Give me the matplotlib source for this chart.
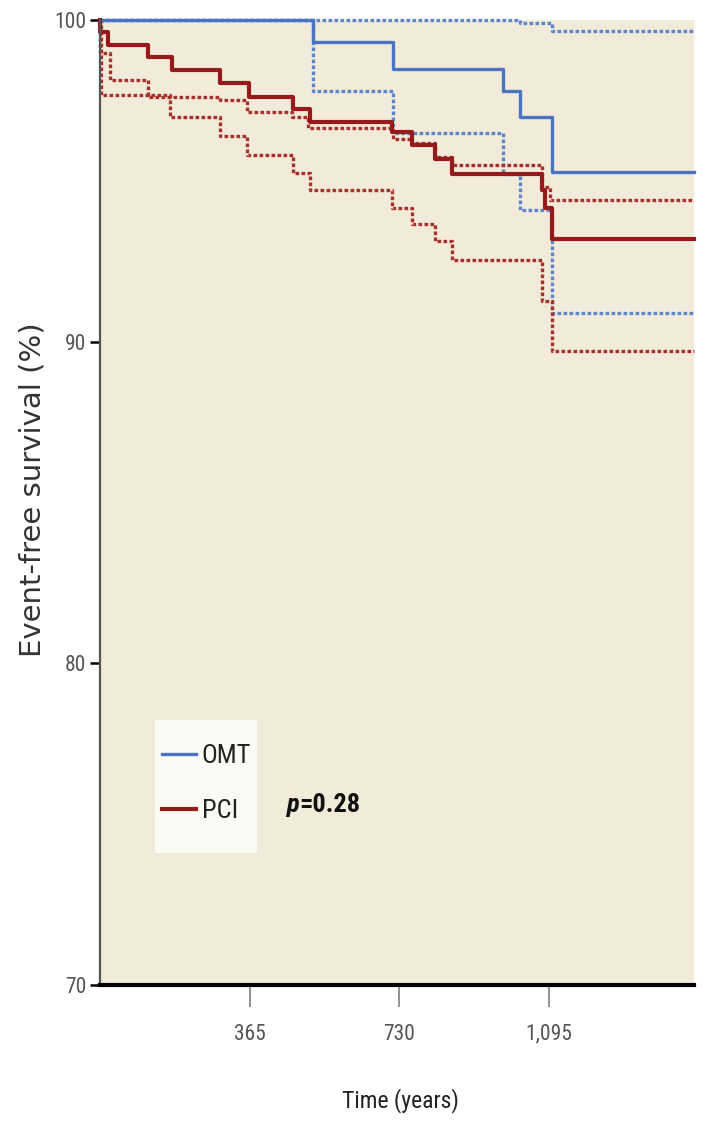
import matplotlib
matplotlib.use("Agg")
import matplotlib.pyplot as plt
import matplotlib.patches as patches
from matplotlib import font_manager

# Kaplan-Meier steps (day of step, survival % after step)
omt_t = [0, 520, 715, 983, 1024, 1103]
omt_s = [100, 99.32, 98.47, 97.80, 97.00, 95.26]
omt_hi = [100, 100, 100, 100, 99.90, 99.67]
omt_lo = [100, 97.80, 96.50, 95.20, 94.10, 90.90]

pci_t = [0, 1, 19, 117, 175, 293, 362, 471, 512, 711, 760, 817, 858, 1077, 1085, 1102]
pci_s = [100, 99.64, 99.22, 98.84, 98.45, 98.05, 97.62, 97.23, 96.82, 96.53,
         96.10, 95.67, 95.22, 94.72, 94.16, 93.19]

pci_hi_t = [0, 1, 24, 117, 293, 359, 468, 507, 715, 761, 817, 859, 1078, 1098]
pci_hi = [100, 98.97, 98.14, 97.62, 97.50, 97.15, 96.97, 96.64, 96.30, 96.17,
          95.74, 95.48, 94.80, 94.41]

pci_lo_t = [0, 3, 171, 293, 359, 471, 512, 712, 761, 817, 859, 1077, 1102]
pci_lo = [100, 97.67, 96.97, 96.38, 95.81, 95.24, 94.70, 94.15, 93.66, 93.14,
          92.55, 91.25, 89.70]

t_end = 1448
xticks = [365, 730, 1095]
xticklabels = ["365", "730", "1,095"]
yticks = [70, 80, 90, 100]
groups = ["OMT", "PCI"]

# look for a narrow face; fall back to plain DejaVu
fonts = font_manager.fontManager.ttflist
names = {f.name for f in fonts}
narrow, stretch = "DejaVu Sans", "normal"
for cand in ["Liberation Sans Narrow", "Roboto Condensed", "Open Sans Condensed",
             "Noto Sans Condensed", "DejaVu Sans Condensed"]:
    if cand in names:
        narrow = cand
        break
else:
    if any(f.name == "DejaVu Sans" and f.stretch in ("condensed", "semi-condensed")
           for f in fonts):
        stretch = "condensed"

blue = "#4a74c2"
blue_ci = "#5f86cc"
red = "#961a1a"
red_ci = "#a5332c"
bg = "#f2ebd9"


def ext(t, s):
    # extend the last step to the end of follow-up
    return list(t) + [t_end], list(s) + [s[-1]]


fig = plt.figure(figsize=(7.1, 11.3), dpi=100)
ax = fig.add_axes([100 / 710, 1 - 985 / 1130, 594 / 710, 965 / 1130])
ax.set_facecolor(bg)

dot = (0, (1.1, 0.7))
x, y = ext(omt_t, omt_hi)
ax.plot(x, y, drawstyle="steps-post", color=blue_ci, lw=2.4, ls=dot, clip_on=False)
x, y = ext(omt_t, omt_lo)
ax.plot(x, y, drawstyle="steps-post", color=blue_ci, lw=2.4, ls=dot, clip_on=False)
x, y = ext(pci_hi_t, pci_hi)
ax.plot(x, y, drawstyle="steps-post", color=red_ci, lw=2.4, ls=dot, clip_on=False)
x, y = ext(pci_lo_t, pci_lo)
ax.plot(x, y, drawstyle="steps-post", color=red_ci, lw=2.4, ls=dot, clip_on=False)

x, y = ext(omt_t, omt_s)
l1, = ax.plot(x, y, drawstyle="steps-post", color=blue, lw=2.4, clip_on=False, label=groups[0])
x, y = ext(pci_t, pci_s)
l2, = ax.plot(x, y, drawstyle="steps-post", color=red, lw=3.0, clip_on=False, label=groups[1])

ax.set_xlim(0, t_end)
ax.set_ylim(70, 100)

for s in ["top", "right"]:
    ax.spines[s].set_visible(False)
ax.spines["left"].set_color("#555555")
ax.spines["left"].set_linewidth(1.6)
ax.spines["bottom"].set_color("black")
ax.spines["bottom"].set_linewidth(3.0)

ax.set_xticks(xticks)
ax.set_xticklabels(xticklabels)
ax.set_yticks(yticks)
ax.set_yticklabels([str(v) for v in yticks])
ax.tick_params(axis="x", length=16, width=1.2, color="#808080", pad=12,
               labelsize=15.5, labelcolor="#555555")
ax.tick_params(axis="y", length=7, width=1.8, color="black", pad=3,
               labelsize=15.5, labelcolor="#555555")
for lab in ax.get_xticklabels() + ax.get_yticklabels():
    lab.set_family(narrow)
    lab.set_fontstretch(stretch)

ax.set_ylabel("Event-free survival (%)", fontsize=21, color="#333333", family="DejaVu Sans")
ax.yaxis.set_label_coords(-0.09, 0.513)
ax.set_xlabel("Time (years)", fontsize=17, color="#222222", family=narrow,
              fontstretch=stretch)
ax.xaxis.set_label_coords(0.505, -0.107)

# legend box
ax.add_patch(patches.Rectangle((0.0926, 0.1368), 0.1717, 0.1378, transform=ax.transAxes,
                               facecolor="#fbfaf5", edgecolor="none", zorder=3))
leg = ax.legend(handles=[l1, l2], loc="upper left", bbox_to_anchor=(0.1044, 0.2500),
                frameon=False, borderpad=0, borderaxespad=0, handlelength=1.3,
                handletextpad=0.2, labelspacing=1.2,
                prop={"family": narrow, "size": 19, "stretch": stretch})
leg.set_zorder(4)
for txt in leg.get_texts():
    txt.set_color("#222222")

t1 = ax.text(0.315, 0.179, "p", transform=ax.transAxes, fontsize=19,
             fontweight="bold", fontstyle="italic", family=narrow,
             fontstretch=stretch, color="#111111")
ax.annotate("=0.28", xycoords=t1, xy=(1, 0), va="bottom", fontsize=19,
            fontweight="bold", family=narrow, fontstretch=stretch, color="#111111")

fig.savefig("out.png", dpi=100)
